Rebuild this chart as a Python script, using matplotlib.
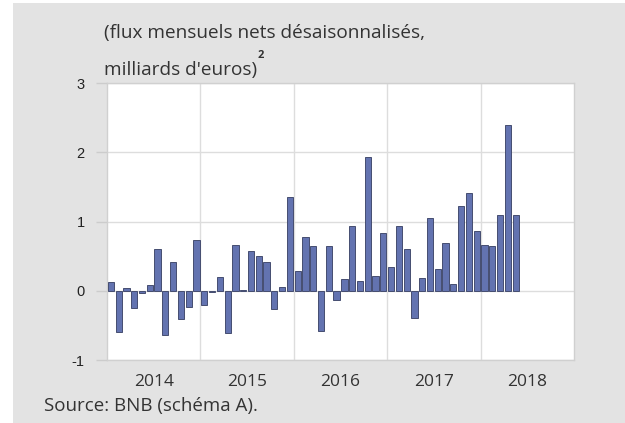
import matplotlib.pyplot as plt
import matplotlib.patches as mpatches
import numpy as np

# monthly net flows, Jan 2014 - May 2018
values = [0.12, -0.59, 0.04, -0.25, -0.03, 0.09, 0.61, -0.64, 0.41, -0.41, -0.24, 0.74,
          -0.20, -0.02, 0.20, -0.61, 0.66, 0.01, 0.58, 0.50, 0.41, -0.27, 0.05, 1.35,
          0.29, 0.77, 0.64, -0.58, 0.65, -0.13, 0.17, 0.94, 0.14, 1.93, 0.21, 0.84,
          0.34, 0.94, 0.60, -0.40, 0.19, 1.05, 0.32, 0.69, 0.10, 1.22, 1.41, 0.86,
          0.66, 0.65, 1.10, 2.39, 1.09]
years = ['2014', '2015', '2016', '2017', '2018']
yticks = [-1, 0, 1, 2, 3]

bg = '#e3e3e3'
fig = plt.figure(figsize=(6.25, 4.23), dpi=100, facecolor='white')
fig.patches.append(mpatches.Rectangle((13 / 625, 0), 1, 1 - 3 / 423, transform=fig.transFigure,
                                      facecolor=bg, edgecolor='none', zorder=-10))

ax = fig.add_axes([107 / 625, 1 - 360 / 423, 467 / 625, 277 / 423])
ax.set_facecolor('white')

x = np.arange(len(values)) + 0.5
ax.bar(x, values, width=0.8, color='#6373b0', edgecolor='#454d70', linewidth=0.7, zorder=3)

ax.set_xlim(0, 12 * len(years))
ax.set_ylim(-1, 3)
ax.set_yticks(yticks)
ax.set_yticklabels([str(t) for t in yticks], fontsize=10.5, family='Liberation Sans', color='#222222')

ax.set_xticks([12 * i for i in range(1, len(years))])
ax.set_xticklabels([])
ax.set_xticks([12 * i + 6 for i in range(len(years))], minor=True)
ax.set_xticklabels(years, minor=True, fontsize=12.5, family='Open Sans', color='#333333')
ax.tick_params(axis='x', which='both', length=0, pad=10)
ax.tick_params(axis='y', length=8, color='#cccccc', width=1, pad=8)

ax.grid(True, which='major', color='#dddddd', linewidth=1, zorder=0)
for s in ax.spines.values():
    s.set_color('#d0d0d0')
    s.set_linewidth(1)

fig.text(104 / 625, 1 - 38 / 423, "(flux mensuels nets désaisonnalisés,", fontsize=13.7,
         family='Open Sans', color='#333333', va='baseline')
fig.text(104 / 625, 1 - 75 / 423, "milliards d'euros)", fontsize=13.7,
         family='Open Sans', color='#333333', va='baseline')
fig.text(258 / 625, 1 - 58 / 423, "2", fontsize=8, fontweight='bold',
         family='Open Sans', color='#333333', va='baseline')
fig.text(44 / 625, 1 - 411 / 423, "Source: BNB (schéma A).", fontsize=13.5,
         family='Open Sans', color='#333333', va='baseline')

fig.savefig('out.png', dpi=100, facecolor=fig.get_facecolor())
